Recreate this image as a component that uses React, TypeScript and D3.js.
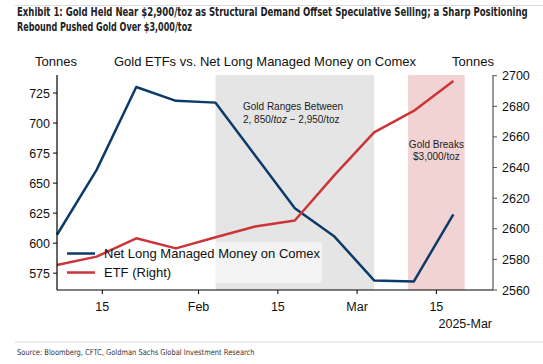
import React, { useLayoutEffect, useRef, useState } from "react";
import * as d3 from "d3";

const dates = ["2025-01-07", "2025-01-14", "2025-01-21", "2025-01-28", "2025-02-04", "2025-02-11", "2025-02-18", "2025-02-25", "2025-03-04", "2025-03-11", "2025-03-18"];
const netLong = [607, 661, 730, 718.5, 717, 673, 629, 605.5, 569, 568, 624];
const etf = [2576.3, 2581.8, 2593.8, 2587.2, 2594.5, 2601.5, 2605.4, 2635, 2663, 2677, 2696.5];
const leftTicks = [575, 600, 625, 650, 675, 700, 725];
const rightTicks = [2560, 2580, 2600, 2620, 2640, 2660, 2680, 2700];
const xTicks = ["2025-01-15", "2025-02-01", "2025-02-15", "2025-03-01", "2025-03-15"];
const xTickLabels = ["15", "Feb", "15", "Mar", "15"];
const grayBand = ["2025-02-04", "2025-03-04"];
const pinkBand = ["2025-03-10", "2025-03-20"];

const parse = d3.utcParse("%Y-%m-%d");
const FONT = "'Liberation Sans', Arial, sans-serif";
const NARROW = "'Liberation Sans Narrow', 'DejaVu Sans Condensed', 'Liberation Sans', sans-serif";

function FitText(props: { x: number; y: number; width: number; size: number; bold?: boolean; fill: string; children: string }) {
  const ref = useRef<SVGTextElement>(null);
  const [k, setK] = useState(1);
  useLayoutEffect(() => {
    if (ref.current) {
      const len = ref.current.getComputedTextLength();
      if (len > 0) setK(props.width / len);
    }
  }, [props.width, props.children]);
  return (
    <g transform={`translate(${props.x},${props.y}) scale(${k},1)`}>
      <text ref={ref} x={0} y={0} fontFamily={NARROW} fontWeight={props.bold ? "bold" : "normal"} fontSize={props.size} fill={props.fill}>
        {props.children}
      </text>
    </g>
  );
}

export default function App() {
  const W = 543, H = 364;
  const L = 57, R = 493, T = 75, B = 290;
  const x = d3.scaleUtc().domain([parse("2025-01-07")!, parse("2025-03-25")!]).range([L, R]);
  const yL = d3.scaleLinear().domain([561, 740]).range([B, T]);
  const yR = d3.scaleLinear().domain([2560, 2700]).range([B, 75.7]);
  const blue = "#0d3b69";
  const red = "#cc3538";

  const lineL = d3.line<number>().x((_, i) => x(parse(dates[i])!)).y((d) => yL(d));
  const lineR = d3.line<number>().x((_, i) => x(parse(dates[i])!)).y((d) => yR(d));

  const gx0 = x(parse(grayBand[0])!), gx1 = x(parse(grayBand[1])!);
  const px0 = x(parse(pinkBand[0])!), px1 = x(parse(pinkBand[1])!);

  return (
    <svg width={W} height={H} style={{ position: "absolute", left: 0, top: 0, background: "#fff" }}>
      <rect x={0} y={0} width={W} height={H} fill="#fff" />
      <line x1={15} x2={W} y1={5.5} y2={5.5} stroke="#dcdcdc" strokeWidth={1} />
      <FitText x={17} y={16} width={511} size={11.5} bold fill="#222">
        Exhibit 1: Gold Held Near $2,900/toz as Structural Demand Offset Speculative Selling; a Sharp Positioning
      </FitText>
      <FitText x={17} y={31} width={175} size={11.5} bold fill="#222">
        Rebound Pushed Gold Over $3,000/toz
      </FitText>

      <text x={265} y={66} textAnchor="middle" fontFamily={FONT} fontSize={13} fill="#111">Gold ETFs vs. Net Long Managed Money on Comex</text>
      <text x={56} y={66} textAnchor="middle" fontFamily={FONT} fontSize={13} fill="#111">Tonnes</text>
      <text x={473} y={66} textAnchor="middle" fontFamily={FONT} fontSize={13} fill="#111">Tonnes</text>

      <rect x={gx0} y={T} width={gx1 - gx0} height={B - T} fill="#e5e5e5" />
      <rect x={px0} y={T} width={px1 - px0} height={B - T} fill="#f2d3d3" />

      <text fontFamily={FONT} fontSize={10} fill="#222">
        <tspan x={243} y={110}>Gold Ranges Between</tspan>
        <tspan x={243} y={123}>2, 850/<tspan fontStyle="italic">toz</tspan> − 2,950/toz</tspan>
      </text>
      <text fontFamily={FONT} fontSize={10} fill="#222" textAnchor="middle">
        <tspan x={(px0 + px1) / 2} y={148}>Gold Breaks</tspan>
        <tspan x={(px0 + px1) / 2} y={160}>$3,000/toz</tspan>
      </text>

      <rect x={61} y={242} width={261} height={41} rx={3} fill="#fff" fillOpacity={0.55} />

      <path d={lineL(netLong)!} fill="none" stroke={blue} strokeWidth={2.5} strokeLinejoin="round" />
      <path d={lineR(etf)!} fill="none" stroke={red} strokeWidth={2.5} strokeLinejoin="round" />

      <line x1={67} x2={95} y1={253.5} y2={253.5} stroke={blue} strokeWidth={2.5} />
      <line x1={67} x2={95} y1={272.5} y2={272.5} stroke={red} strokeWidth={2.5} />
      <text x={104} y={258} fontFamily={FONT} fontSize={13} fill="#111">Net Long Managed Money on Comex</text>
      <text x={104} y={277} fontFamily={FONT} fontSize={13} fill="#111">ETF (Right)</text>

      {/* left axis */}
      <line x1={L} x2={L} y1={T} y2={B} stroke="#000" strokeWidth={1.2} />
      {leftTicks.map((t) => (
        <g key={t}>
          <line x1={L - 4} x2={L} y1={yL(t)} y2={yL(t)} stroke="#000" strokeWidth={1} />
          <text x={L - 7} y={yL(t) + 4.5} textAnchor="end" fontFamily={FONT} fontSize={12.5} fill="#111">{t}</text>
        </g>
      ))}
      {/* right axis */}
      <line x1={R} x2={R} y1={T} y2={B} stroke="#555" strokeWidth={1.2} />
      {rightTicks.map((t) => (
        <g key={t}>
          <line x1={R} x2={R + 4} y1={yR(t)} y2={yR(t)} stroke="#555" strokeWidth={1} />
          <text x={R + 9} y={yR(t) + 4.5} textAnchor="start" fontFamily={FONT} fontSize={12.5} fill="#111">{t}</text>
        </g>
      ))}
      {/* bottom axis */}
      <line x1={L} x2={R} y1={B} y2={B} stroke="#000" strokeWidth={1.2} />
      {xTicks.map((t, i) => (
        <g key={t}>
          <line x1={x(parse(t)!)} x2={x(parse(t)!)} y1={B} y2={B + 4} stroke="#000" strokeWidth={1} />
          <text x={x(parse(t)!)} y={311} textAnchor="middle" fontFamily={FONT} fontSize={12.5} fill="#111">{xTickLabels[i]}</text>
        </g>
      ))}
      <text x={492} y={328} textAnchor="end" fontFamily={FONT} fontSize={12.5} fill="#111">2025-Mar</text>

      <line x1={15} x2={W} y1={342} y2={342} stroke="#dcdcdc" strokeWidth={1} />
      <FitText x={17} y={355} width={238} size={8} fill="#333">
        Source: Bloomberg, CFTC, Goldman Sachs Global Investment Research
      </FitText>
    </svg>
  );
}
